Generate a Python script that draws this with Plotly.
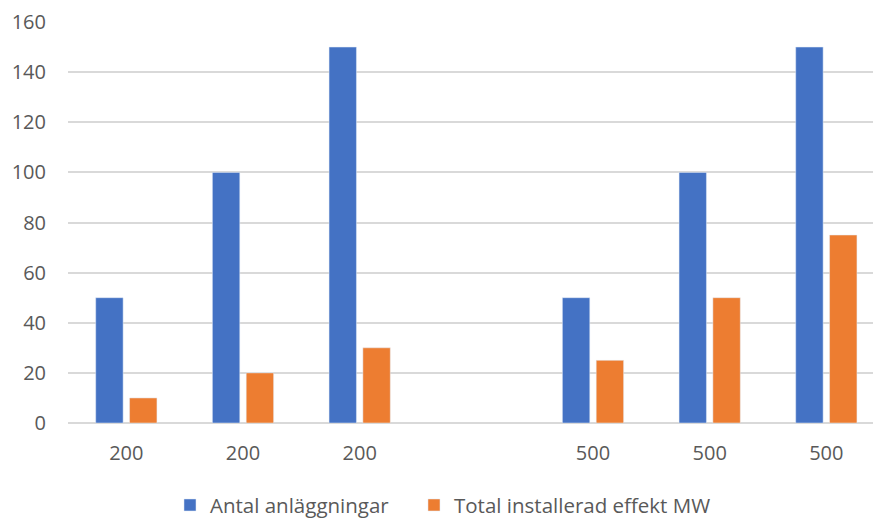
import plotly.graph_objects as go

# Category labels (the fourth slot is an empty spacer between the two groups)
tick_labels = ["200", "200", "200", "", "500", "500", "500"]
positions = [0, 1, 2, 4, 5, 6]
group_labels = ["200", "200", "200", "500", "500", "500"]

antal = [50, 100, 150, 50, 100, 150]
effekt = [10, 20, 30, 25, 50, 75]

BLUE = "#4472C4"
ORANGE = "#ED7D31"
TEXT = "#595959"
GRID = "#D9D9D9"
FONT = "Open Sans, Noto Sans, sans-serif"

fig = go.Figure()
fig.add_trace(go.Bar(x=positions, y=antal, name="Antal anläggningar",
                     marker=dict(color=BLUE), customdata=group_labels,
                     legend="legend"))
fig.add_trace(go.Bar(x=positions, y=effekt, name="Total installerad effekt MW",
                     marker=dict(color=ORANGE), customdata=group_labels,
                     legend="legend2"))

legend_style = dict(orientation="h", xanchor="left", y=-0.155, yanchor="top",
                    font=dict(size=20.5, color=TEXT), itemwidth=30,
                    bgcolor="rgba(0,0,0,0)")

fig.update_layout(
    width=873, height=519,
    margin=dict(l=68, r=0, t=22, b=96, autoexpand=False),
    paper_bgcolor="white", plot_bgcolor="white",
    barmode="group", bargap=0.42, bargroupgap=0.19,
    font=dict(family=FONT, size=20, color=TEXT),
    showlegend=True,
    legend=dict(x=0.1267, **legend_style),
    legend2=dict(x=0.4298, **legend_style),
    xaxis=dict(tickmode="array", tickvals=list(range(7)), ticktext=tick_labels,
               range=[-0.5, 6.4], showgrid=False, zeroline=False, showline=False,
               ticks="", ticklabelstandoff=16),
    yaxis=dict(range=[0, 160], dtick=20, showgrid=True, gridcolor=GRID, gridwidth=1.5,
               zeroline=True, zerolinecolor=GRID, zerolinewidth=1.5, showline=False,
               ticks="", ticklabelstandoff=21),
)

fig.write_html("out.html")
